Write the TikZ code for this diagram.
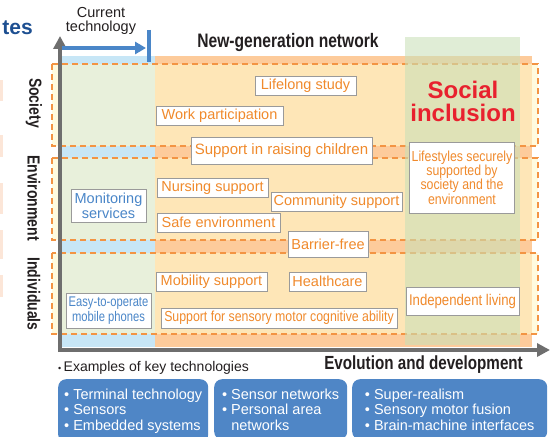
\documentclass[tikz,border=0pt]{standalone}
\usepackage{fontspec}
\usepackage{graphicx}
\setmainfont{Liberation Sans}
\newfontfamily\narrowsf{Liberation Sans}[FakeStretch=0.85]
\newfontfamily\condsf{Liberation Sans}[FakeStretch=0.8]
\usetikzlibrary{arrows.meta}
\definecolor{peach}{HTML}{FDCB9B}
\definecolor{lblue}{HTML}{C7E6F6}
\definecolor{cream}{HTML}{FFF8CA}
\definecolor{lgreen}{HTML}{C9E0B8}
\definecolor{dashor}{HTML}{F39443}
\definecolor{ortext}{HTML}{F08A2C}
\definecolor{bltext}{HTML}{4A86C8}
\definecolor{axgray}{HTML}{6E6E6E}
\definecolor{sred}{HTML}{E8212E}
\definecolor{boxblue}{HTML}{4F86C6}
\definecolor{titleblue}{HTML}{1D4F91}
\definecolor{boxgray}{HTML}{9A9A9A}
\definecolor{pinkish}{HTML}{FCE6D8}
\definecolor{darktext}{HTML}{231F20}
\begin{document}
\begin{tikzpicture}[x=1pt,y=-1pt,
  tag/.style={draw=boxgray, fill=white, line width=0.8pt, text=ortext,
    font=\fontsize{14.5}{16}\selectfont, inner xsep=2pt, inner ysep=1pt,
    minimum height=19pt},
  btag/.style={tag, text=bltext, align=center},
  band/.style={draw=dashor, line width=2.4pt, dash pattern=on 6pt off 4pt},
  axis/.style={draw=axgray, line width=4pt, -{Triangle[length=13pt,width=13pt]}},
  rowlabel/.style={rotate=-90, text=darktext, font=\condsf\bfseries\fontsize{17.5}{18}\selectfont},
  techbox/.style={anchor=north west, fill=boxblue, rounded corners=8pt, text=white,
    align=left, inner xsep=4pt, inner ysep=9.4pt,
    font=\fontsize{14.5}{15.5}\selectfont}
]
\useasboundingbox (0,0) rectangle (551,436);

% cut-off title and margin marks
\node[anchor=base east, text=titleblue, font=\bfseries\fontsize{21}{21}\selectfont, inner sep=0pt] (tes) at (33,35) {tes};
\foreach \a/\b in {80/101,135/157,183/214,230/259,275/297}
  \fill[pinkish] (0,\a) rectangle (3,\b);

% column backgrounds
\fill[lblue] (60,56) rectangle (155,347);
\fill[peach] (155,56) rectangle (532,347);

% dashed bands
\foreach \t/\b in {64/146,158/240,253/334}{
  \fill[cream, opacity=0.6] (52,\t) rectangle (538,\b);
  \draw[band] (52,\t) rectangle (538,\b);
}

% social inclusion column
\fill[lgreen, opacity=0.58] (405,37) rectangle (520,345);

% axes
\coordinate (yb) at (60,352);
\coordinate (yt) at (60,36);
\coordinate (xl) at (58,350);
\coordinate (xr) at (550,350);
\draw[axis] (yb) -- (yt);
\draw[axis] (xl) -- (xr);

% current technology
\node[align=center, font=\fontsize{14.5}{14}\selectfont, text=darktext] (cur) at (101,21) {Current\\technology};
\coordinate (cs) at (62,48);
\coordinate (ce) at (146,48);
\draw[draw=bltext, line width=3.5pt, -{Triangle[length=11pt,width=12pt]}] (cs) -- (ce);
\coordinate (bt) at (149,30);
\coordinate (bb) at (149,62);
\draw[bltext, line width=4pt] (bt) -- (bb);

\node[font=\condsf\bfseries\fontsize{19.5}{20}\selectfont, text=darktext] (ngn) at (288,43) {New-generation network};

% row labels
\node[rowlabel] (soc) at (34,103) {Society};
\node[rowlabel] (env) at (34,198) {Environment};
\node[rowlabel] (ind) at (34,294) {Individuals};

% tags
\node[tag, minimum width=101pt] (life) at (305.5,85.5) {Lifelong study};
\node[tag, minimum width=127pt] (work) at (219.5,115.5) {Work participation};
\node[tag, minimum width=181pt, minimum height=27pt, font=\fontsize{15}{16}\selectfont] (raise) at (281.5,150.5) {Support in raising children};
\node[tag, minimum width=111pt] (nurse) at (212.5,187.5) {Nursing support};
\node[tag, minimum width=131pt] (comm) at (336.5,201.5) {Community support};
\node[tag, minimum width=123pt] (safe) at (218.5,222.5) {Safe environment};
\node[tag, minimum width=80pt, minimum height=26pt] (barr) at (328,244) {Barrier-free};
\node[tag, minimum width=111pt] (mob) at (211.5,281.5) {Mobility support};
\node[tag, minimum width=77pt] (health) at (327.5,281.5) {Healthcare};
\node[tag, minimum width=236pt, minimum height=20pt, font=\narrowsf\fontsize{14.5}{15}\selectfont] (sens) at (279,318) {Support for sensory motor cognitive ability};
\node[btag, minimum width=75pt, minimum height=33pt, font=\fontsize{14.5}{15}\selectfont] (mon) at (108.5,205.5) {Monitoring\\services};
\node[btag, minimum width=85pt, minimum height=35pt, font=\condsf\fontsize{14}{15}\selectfont] (easy) at (108.5,310.5) {Easy-to-operate\\mobile phones};
\node[tag, align=center, minimum width=104pt, minimum height=71pt, font=\narrowsf\fontsize{14.5}{14.4}\selectfont] (lifest) at (462,177.5) {Lifestyles securely\\supported by\\society and the\\environment};
\node[tag, minimum width=113pt, minimum height=28pt, font=\narrowsf\fontsize{15.5}{16}\selectfont] (indep) at (462.5,301) {Independent living};

\node[align=center, text=sred, font=\bfseries\fontsize{24}{23}\selectfont] (si) at (463,101) {Social\\inclusion};

% bottom
\node[anchor=west, text=darktext, font=\fontsize{14}{15}\selectfont, inner sep=0pt] (ex) at (58,368) {{\fontsize{9}{9}\selectfont\textbullet}\,Examples of key technologies};
\node[anchor=east, text=darktext, font=\condsf\bfseries\fontsize{19}{20}\selectfont, inner sep=0pt] (evo) at (523,365) {Evolution and development};

\node[techbox, minimum width=150pt] (t1) at (58,379) {\textbullet\ Terminal technology\\\textbullet\ Sensors\\\textbullet\ Embedded systems};
\node[techbox, minimum width=133pt] (t2) at (214,379) {\textbullet\ Sensor networks\\\textbullet\ Personal area\\\phantom{\textbullet\ }networks};
\node[techbox, minimum width=195pt] (t3) at (352,379) {\textbullet\ Super-realism\\\textbullet\ Sensory motor fusion\\\textbullet\ Brain-machine interfaces};
\end{tikzpicture}
\end{document}
